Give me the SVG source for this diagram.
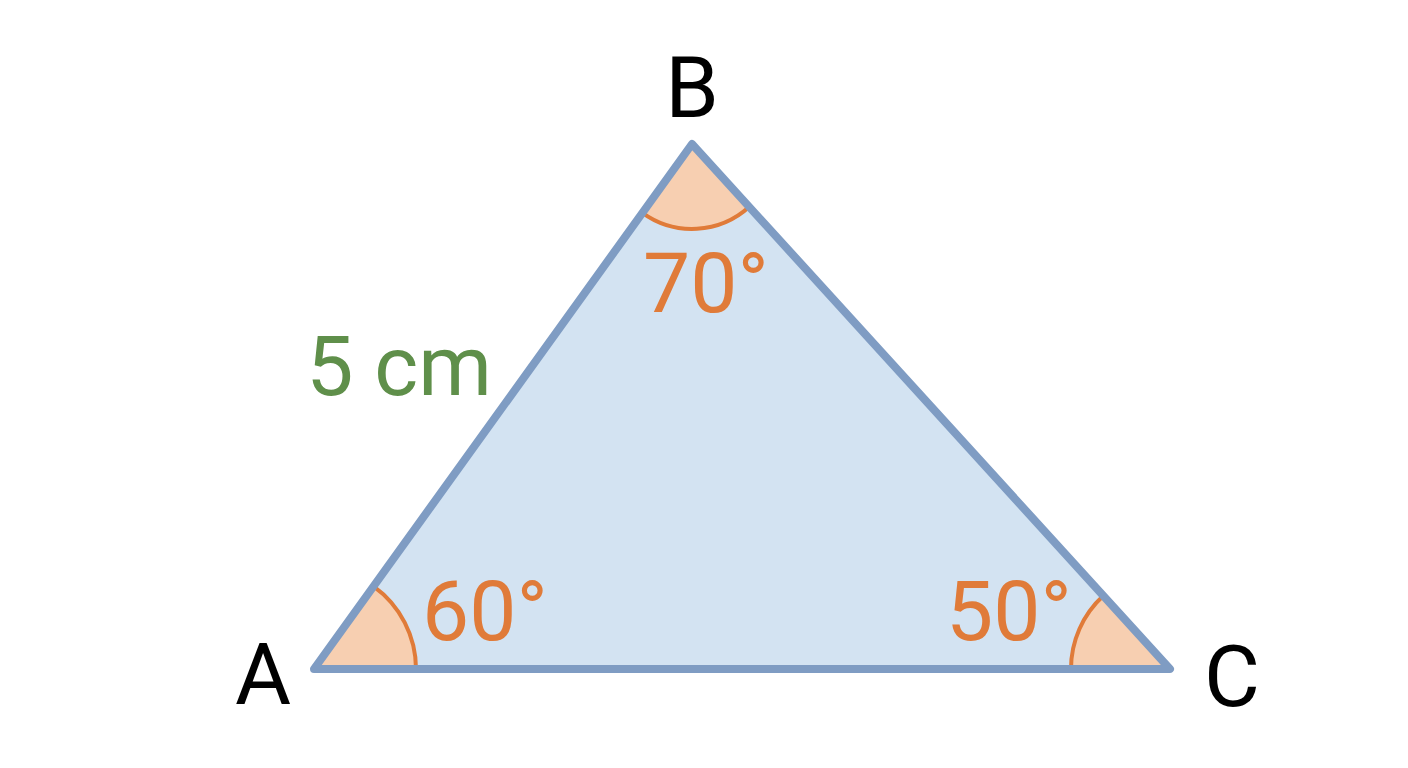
<svg xmlns="http://www.w3.org/2000/svg" width="1408" height="768" viewBox="0 0 1408 768">
<style>
.lbl{font-family:Roboto,"Liberation Sans",sans-serif;font-size:86px;fill:#000}
.ang{font-family:Roboto,"Liberation Sans",sans-serif;font-size:84px;fill:#e07b39}
.len{font-family:Roboto,"Liberation Sans",sans-serif;font-size:84px;fill:#5f8f4a}
.wedge{fill:#f7cfb1;stroke:none}
.arc{fill:none;stroke:#e07b39;stroke-width:4}
</style>
<rect width="1408" height="768" fill="#ffffff"/>
<g id="triangle">
<polygon points="314,669 692,144 1170,669" fill="#d3e3f2"/>
</g>
<g id="angle-A">
<path class="wedge" d="M314,669 L416,669 A102,102 0 0 0 373.6,586.3 Z"/>
<path class="arc" d="M416,669 A102,102 0 0 0 373.6,586.3"/>
</g>
<g id="angle-B">
<path class="wedge" d="M692,144 L642.4,212.9 A85,85 0 0 0 749.3,206.8 Z"/>
<path class="arc" d="M642.4,212.9 A85,85 0 0 0 749.3,206.8"/>
</g>
<g id="angle-C">
<path class="wedge" d="M1170,669 L1071,669 A99,99 0 0 1 1103.3,595.8 Z"/>
<path class="arc" d="M1071,669 A99,99 0 0 1 1103.3,595.8"/>
</g>
<g id="edges">
<polygon points="314,669 692,144 1170,669" fill="none" stroke="#7f9cc3" stroke-width="8" stroke-linejoin="round"/>
</g>
<g id="labels">
<text class="lbl" x="692" y="117" text-anchor="middle">B</text>
<text class="lbl" x="263" y="704" text-anchor="middle">A</text>
<text class="lbl" x="1232" y="706" text-anchor="middle">C</text>
<text class="ang" x="706" y="312" text-anchor="middle">70°</text>
<text class="ang" x="485" y="640" text-anchor="middle">60°</text>
<text class="ang" x="1009" y="640" text-anchor="middle">50°</text>
<text class="len" x="399" y="395" text-anchor="middle">5 cm</text>
</g>
</svg>
